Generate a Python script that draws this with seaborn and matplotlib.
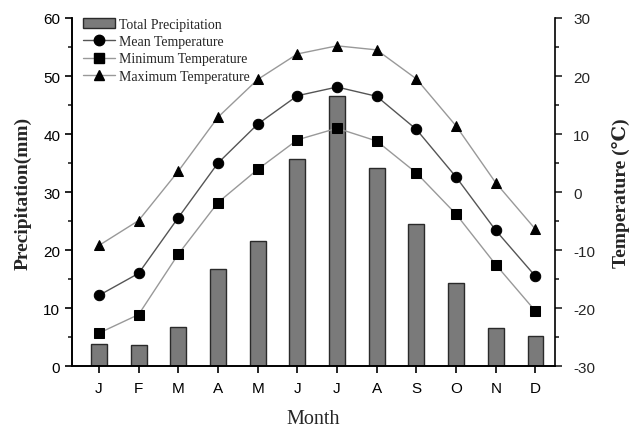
import matplotlib
matplotlib.use("Agg")
import matplotlib.pyplot as plt
import numpy as np
import pandas as pd
import seaborn as sns
from matplotlib.patches import Patch
from matplotlib.lines import Line2D
from matplotlib.ticker import MultipleLocator

# Data
months = ["J", "F", "M", "A", "M", "J", "J", "A", "S", "O", "N", "D"]
precip = [3.8, 3.6, 6.8, 16.8, 21.5, 35.7, 46.6, 34.1, 24.5, 14.3, 6.6, 5.2]
t_mean = [-17.8, -14.0, -4.4, 5.0, 11.7, 16.6, 18.1, 16.5, 10.8, 2.6, -6.6, -14.5]
t_min = [-24.3, -21.1, -10.7, -1.8, 3.9, 9.0, 11.0, 8.8, 3.3, -3.8, -12.5, -20.5]
t_max = [-9.2, -4.9, 3.6, 12.9, 19.4, 23.8, 25.2, 24.5, 19.5, 11.4, 1.6, -6.4]

idx = np.arange(len(months))
df = pd.DataFrame({"idx": idx, "precip": precip, "mean": t_mean, "min": t_min, "max": t_max})

sns.set_style("ticks")
plt.rcParams["font.family"] = ["Liberation Sans", "DejaVu Sans"]
plt.rcParams["axes.unicode_minus"] = False
serif = ["Liberation Serif", "DejaVu Serif"]

fig = plt.figure(figsize=(6.31, 4.31), dpi=100)
ax = fig.add_axes([0.114, 0.148, 0.766, 0.808])

sns.barplot(data=df, x="idx", y="precip", ax=ax, color="#7a7a7a", width=0.4,
            edgecolor="#2a2a2a", linewidth=1.0, saturation=1)
ax.set_xlim(-0.68, 11.5)
ax.set_ylim(0, 60)
ax.yaxis.set_major_locator(MultipleLocator(10))
ax.yaxis.set_minor_locator(MultipleLocator(5))
ax.set_xticks(idx)
ax.set_xticklabels(months)
ax.tick_params(axis="both", labelsize=11, length=5, width=1.2, colors="black")
ax.tick_params(axis="x", pad=6)
ax.tick_params(axis="y", which="minor", length=3, width=1.2)
ax.set_xlabel("Month", fontsize=14.5, family=serif, labelpad=10)
ax.set_ylabel("Precipitation(mm)", fontsize=14, family=serif, fontweight="bold", labelpad=8)

ax2 = ax.twinx()
styles = [("mean", "o", "#555555"), ("min", "s", "#999999"), ("max", "^", "#999999")]
for col, mk, lc in styles:
    sns.lineplot(data=df, x="idx", y=col, ax=ax2, color=lc, linewidth=1.0,
                 marker=mk, markersize=7.5, markerfacecolor="black",
                 markeredgecolor="black")
ax2.set_ylim(-30, 30)
ax2.set_xlim(-0.68, 11.5)
ax2.yaxis.set_major_locator(MultipleLocator(10))
ax2.yaxis.set_minor_locator(MultipleLocator(5))
ax2.tick_params(axis="y", labelsize=11, length=5, width=1.2, pad=8)
ax2.tick_params(axis="y", which="minor", length=3, width=1.2)
ax2.set_ylabel("Temperature (℃)", fontsize=14, family=serif, fontweight="bold", labelpad=12)
ax2.set_xlabel("")

for a in (ax, ax2):
    a.spines["top"].set_visible(False)
    for s in ("left", "right", "bottom"):
        a.spines[s].set_linewidth(1.2)
        a.spines[s].set_color("black")
ax.spines["right"].set_visible(False)

handles = [
    Patch(facecolor="#7a7a7a", edgecolor="#2a2a2a", linewidth=1.0),
    Line2D([], [], color="#555555", lw=1.0, marker="o", markersize=7.5,
           markerfacecolor="black", markeredgecolor="black"),
    Line2D([], [], color="#999999", lw=1.0, marker="s", markersize=7.5,
           markerfacecolor="black", markeredgecolor="black"),
    Line2D([], [], color="#999999", lw=1.0, marker="^", markersize=7.5,
           markerfacecolor="black", markeredgecolor="black"),
]
labels = ["Total Precipitation", "Mean Temperature", "Minimum Temperature", "Maximum Temperature"]
ax2.legend(handles, labels, loc="upper left", bbox_to_anchor=(0.005, 1.025), frameon=False,
           prop={"family": serif, "size": 10}, handlelength=2.35, handletextpad=0.3,
           labelspacing=0.32, borderaxespad=0.2)

fig.savefig("out.png", dpi=100)
